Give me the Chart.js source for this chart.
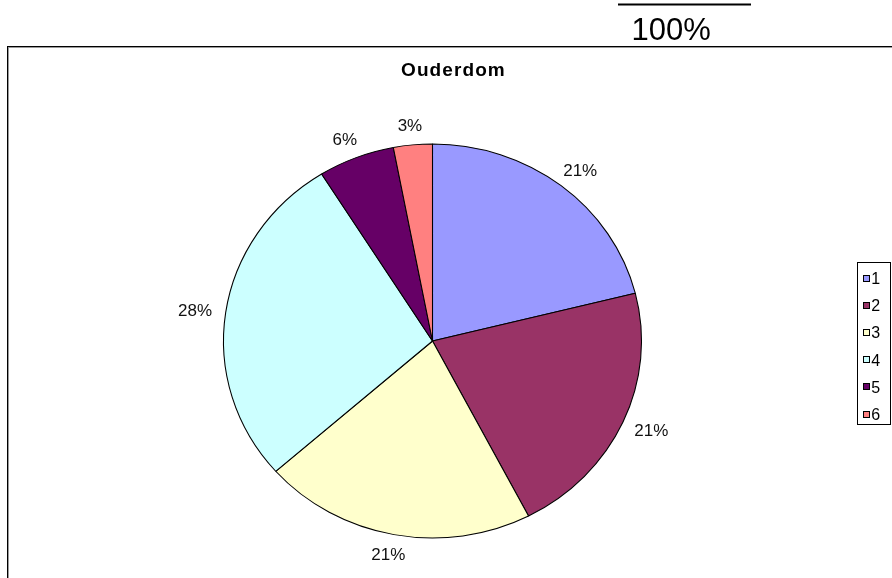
<!DOCTYPE html>
<html>
<head>
<meta charset="utf-8">
<script src="https://cdn.jsdelivr.net/npm/chart.js@4/dist/chart.umd.min.js"></script>
<style>
  html, body { margin: 0; padding: 0; background: #ffffff; }
  #wrap { width: 892px; height: 578px; position: relative; }
  canvas { display: block; }
</style>
</head>
<body>
<div id="wrap"><canvas id="c" width="892" height="578"></canvas></div>
<script>
// ---- data ----
const categories = ['1', '2', '3', '4', '5', '6'];
const values = [21.1, 21.3, 21.1, 27.6, 5.9, 3.0];
const sliceColors = ['#9999FF', '#993366', '#FFFFCC', '#CCFFFF', '#660066', '#FF8080'];
const chartTitle = 'Ouderdom';
const headerText = '100%';

const SX = 1.061; // Excel pie is slightly wider than tall

const ellipsePlugin = {
  id: 'ellipse',
  beforeDatasetsDraw(chart) {
    const ctx = chart.ctx;
    const arc = chart.getDatasetMeta(0).data[0];
    ctx.save();
    ctx.translate(arc.x, arc.y);
    ctx.scale(SX, 1);
    ctx.translate(-arc.x, -arc.y);
  },
  afterDatasetsDraw(chart) {
    chart.ctx.restore();
  }
};

const decorPlugin = {
  id: 'decor',
  beforeDraw(chart) {
    const ctx = chart.ctx;
    ctx.save();
    // header line and text
    ctx.fillStyle = '#000';
    ctx.fillRect(618, 3.5, 133, 2);
    ctx.font = '31px "Liberation Sans", Arial, sans-serif';
    ctx.textAlign = 'left';
    ctx.textBaseline = 'alphabetic';
    ctx.fillText(headerText, 631.5, 39.5);
    // chart frame (left + top edges)
    ctx.fillStyle = '#000';
    ctx.fillRect(7, 46, 892, 1);
    ctx.fillRect(7, 46, 1, 540);
    ctx.fillStyle = '#9a9a9a';
    ctx.fillRect(8, 47, 892, 1);
    ctx.fillRect(8, 47, 1, 540);
    ctx.restore();
  },
  afterDraw(chart) {
    const ctx = chart.ctx;
    const meta = chart.getDatasetMeta(0);
    const ds = chart.data.datasets[0];
    const total = ds.data.reduce((a, b) => a + b, 0);
    ctx.save();
    // title
    ctx.fillStyle = '#000';
    ctx.font = 'bold 19px "Liberation Sans", Arial, sans-serif';
    ctx.letterSpacing = '1.1px';
    ctx.textAlign = 'left';
    ctx.textBaseline = 'alphabetic';
    ctx.fillText(chartTitle, 401, 75.8);
    ctx.letterSpacing = '0px';
    // percentage labels outside slices
    ctx.font = '17px "Liberation Sans", Arial, sans-serif';
    ctx.textAlign = 'center';
    ctx.fillStyle = '#111';
    meta.data.forEach((arc, i) => {
      const mid = (arc.startAngle + arc.endAngle) / 2;
      const ax = arc.outerRadius * SX + 31;
      const ay = arc.outerRadius + 20;
      const x = arc.x + ax * Math.cos(mid);
      const y = arc.y + ay * Math.sin(mid);
      const pct = Math.round(ds.data[i] / total * 100) + '%';
      ctx.fillText(pct, x, y + 6);
    });
    // legend
    const lx = 857, ly = 262, lw = 33, lh = 162;
    ctx.strokeStyle = '#000';
    ctx.lineWidth = 1;
    ctx.strokeRect(lx + 0.5, ly + 0.5, lw, lh);
    ctx.font = '16px "Liberation Sans", Arial, sans-serif';
    ctx.textAlign = 'left';
    chart.data.labels.forEach((lab, i) => {
      const cy = 278.5 + i * 27.1;
      const ry = Math.round(cy - 3.5);
      ctx.fillStyle = ds.backgroundColor[i];
      ctx.fillRect(863, ry, 7, 7);
      ctx.strokeStyle = '#000';
      ctx.strokeRect(863.5, ry + 0.5, 6, 6);
      ctx.fillStyle = '#000';
      ctx.fillText(lab, 871.3, cy + 5.7);
    });
    ctx.restore();
  }
};

new Chart(document.getElementById('c'), {
  type: 'pie',
  data: {
    labels: categories,
    datasets: [{
      data: values,
      backgroundColor: sliceColors,
      borderColor: '#000',
      borderWidth: 1,
      radius: 197
    }]
  },
  options: {
    responsive: false,
    devicePixelRatio: 1,
    animation: false,
    layout: { padding: { left: 20, right: 47, top: 120, bottom: 16 } },
    plugins: {
      legend: { display: false },
      title: { display: false },
      tooltip: { enabled: false }
    }
  },
  plugins: [ellipsePlugin, decorPlugin]
});
</script>
</body>
</html>
